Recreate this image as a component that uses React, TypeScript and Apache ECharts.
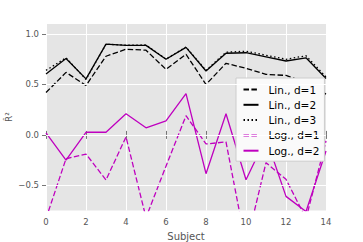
import React, { useEffect, useRef } from "react";
import * as echarts from "echarts";

const subjects = [0, 1, 2, 3, 4, 5, 6, 7, 8, 9, 10, 11, 12, 13, 14];
const linD1 = [0.42, 0.62, 0.49, 0.78, 0.85, 0.84, 0.65, 0.8, 0.5, 0.71, 0.66, 0.6, 0.59, 0.52, 0.405];
const linD2 = [0.605, 0.757, 0.556, 0.9, 0.888, 0.888, 0.75, 0.868, 0.634, 0.81, 0.815, 0.775, 0.733, 0.765, 0.56];
const linD3 = [0.64, 0.765, 0.55, 0.9, 0.89, 0.892, 0.752, 0.872, 0.64, 0.82, 0.83, 0.79, 0.75, 0.785, 0.575];
const logD1 = [-0.83, -0.237, -0.19, -0.447, -0.02, -0.82, -0.31, 0.19, -0.09, -0.07, -1.1, -0.276, -0.44, -0.83, -0.06];
const logD2 = [0.02, -0.25, 0.026, 0.026, 0.21, 0.07, 0.14, 0.41, -0.385, 0.21, -0.445, -0.03, -0.61, -0.76, -0.16];
const yTicks = [-0.5, 0, 0.5, 1.0];
const seriesNames = ["Lin., d=1", "Lin., d=2", "Lin., d=3", "Log., d=1", "Log., d=2"];

const FONT = "DejaVu Sans";
const fmtY = (v: number) => (v < 0 ? "\u2212" + Math.abs(v).toFixed(1) : v.toFixed(1));

export default function App() {
  const ref = useRef<HTMLDivElement>(null);
  useEffect(() => {
    if (!ref.current) return;
    const chart = echarts.init(ref.current, undefined, { renderer: "svg" });
    const mk = (name: string, data: number[], color: string, type: any) => ({
      name,
      type: "line",
      data: subjects.map((s, i) => [s, data[i]]),
      symbol: "none",
      clip: true,
      z: 3,
      xAxisIndex: 0,
      yAxisIndex: 0,
      lineStyle: { color, width: 1.3, type },
      itemStyle: { color },
    });
    const tickStyle = { show: true, inside: false, length: 4, lineStyle: { color: "#777", width: 1 } };
    chart.setOption({
      animation: false,
      grid: {
        left: 46,
        right: 37,
        top: 24,
        bottom: 31.5,
        show: true,
        containLabel: false,
        outerBoundsMode: "none",
        backgroundColor: "#e5e5e5",
        borderWidth: 0,
      },
      xAxis: [
        {
          type: "value",
          min: 0,
          max: 14,
          interval: 2,
          position: "bottom",
          axisLine: { show: false },
          axisTick: tickStyle,
          axisLabel: { color: "#555", fontSize: 8.5, fontFamily: FONT, margin: 7 },
          splitLine: { show: true, lineStyle: { color: "#fff", width: 1 } },
          name: "Subject",
          nameLocation: "middle",
          nameGap: 16,
          nameTextStyle: { color: "#555", fontSize: 10, fontFamily: FONT },
        },
        {
          type: "value",
          min: 0,
          max: 14,
          interval: 2,
          position: "top",
          axisLine: { show: false },
          axisTick: tickStyle,
          axisLabel: { show: false },
          splitLine: { show: false },
        },
      ],
      yAxis: [
        {
          type: "value",
          min: -0.75,
          max: 1.1,
          interval: 0.05,
          position: "left",
          axisLine: { show: false },
          axisTick: { ...tickStyle, customValues: yTicks },
          axisLabel: {
            color: "#555",
            fontSize: 8.5,
            fontFamily: FONT,
            margin: 7,
            customValues: yTicks,
            formatter: fmtY,
          },
          splitLine: { show: false },
        },
        {
          type: "value",
          min: -0.75,
          max: 1.1,
          interval: 0.05,
          position: "right",
          axisLine: { show: false },
          axisTick: { ...tickStyle, customValues: yTicks },
          axisLabel: { show: false, customValues: yTicks },
          splitLine: { show: false },
        },
      ],
      legend: {
        data: seriesNames,
        orient: "vertical",
        left: 236,
        top: 78,
        itemWidth: 15,
        itemHeight: 10,
        itemGap: 4.3,
        padding: [6, 5, 5, 6.5],
        backgroundColor: "#fafafa",
        borderColor: "#cccccc",
        borderWidth: 1,
        itemStyle: { opacity: 0 },
        textStyle: { color: "#000", fontSize: 10.5, fontFamily: FONT, padding: [0, 0, 0, 5] },
      },
      graphic: [
        {
          type: "text",
          x: 9,
          y: 117,
          rotation: Math.PI / 2,
          style: {
            text: "R\u0302\u00b2",
            fill: "#555",
            fontSize: 9,
            fontFamily: FONT,
            align: "center",
            verticalAlign: "middle",
          },
        },
      ],
      series: [
        {
          name: "grid-lines",
          type: "line",
          data: [],
          xAxisIndex: 0,
          yAxisIndex: 0,
          z: 1,
          silent: true,
          markLine: {
            silent: true,
            symbol: "none",
            label: { show: false },
            lineStyle: { color: "#ffffff", width: 1, type: "solid" },
            data: yTicks.map((v) => ({ yAxis: v })),
          },
        },
        mk(seriesNames[0], linD1, "#000000", [5.5, 2.4]),
        mk(seriesNames[1], linD2, "#000000", "solid"),
        mk(seriesNames[2], linD3, "#000000", [1.5, 2.5]),
        mk(seriesNames[3], logD1, "#bf00bf", [5.5, 2.4]),
        mk(seriesNames[4], logD2, "#bf00bf", "solid"),
      ],
    });
    return () => chart.dispose();
  }, []);
  return (
    <div
      ref={ref}
      style={{ position: "fixed", left: 0, top: 0, width: 363, height: 242, background: "#fff" }}
    />
  );
}
